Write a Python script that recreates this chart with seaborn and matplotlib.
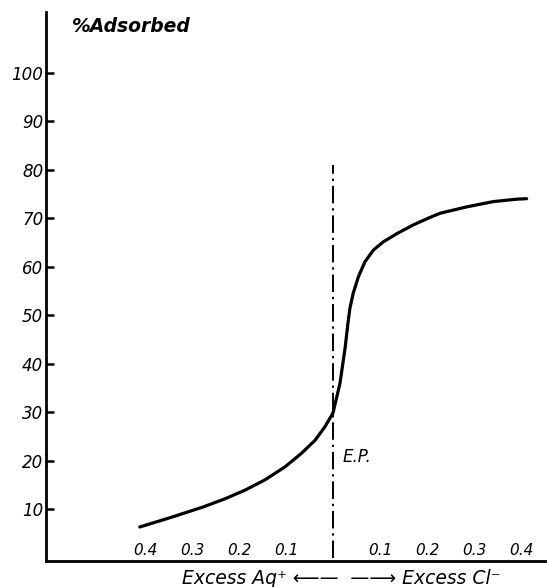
import matplotlib
matplotlib.use("Agg")
import matplotlib.pyplot as plt
import seaborn as sns
import pandas as pd

# ---- data ----
excess = [-0.411, -0.347, -0.277, -0.230, -0.187, -0.145, -0.102, -0.067,
          -0.038, -0.017, 0.0, 0.015, 0.026, 0.032, 0.036, 0.043, 0.054,
          0.068, 0.086, 0.107, 0.136, 0.171, 0.203, 0.228, 0.284, 0.341,
          0.391, 0.412]
adsorbed = [6.3, 8.2, 10.4, 12.1, 13.9, 16.0, 18.7, 21.5,
            24.2, 27.0, 29.8, 36.0, 43.4, 48.5, 51.4, 54.5, 57.9,
            61.0, 63.4, 65.1, 66.8, 68.6, 70.0, 71.0, 72.3, 73.4,
            73.9, 74.0]

ytick_values = [10, 20, 30, 40, 50, 60, 70, 80, 90, 100]
ytick_labels = ["10", "20", "30", "40", "50", "60", "70", "80", "90", "100"]
xtick_values = [-0.4, -0.3, -0.2, -0.1, 0.1, 0.2, 0.3, 0.4]
xtick_labels = ["0.4", "0.3", "0.2", "0.1", "0.1", "0.2", "0.3", "0.4"]

ep_x = 0.0
ep_top = 81.0

df = pd.DataFrame({"excess": excess, "adsorbed": adsorbed})

sns.set_theme(style="white")
plt.rcParams["font.family"] = ["DejaVu Sans"]

fig = plt.figure(figsize=(5.47, 5.87), dpi=100)
ax = fig.add_axes([46 / 547, 26 / 587, 501 / 547, 549 / 587])

sns.lineplot(data=df, x="excess", y="adsorbed", ax=ax, color="black",
             linewidth=2.3, sort=False, estimator=None,
             solid_joinstyle="round", solid_capstyle="round")

ax.vlines(ep_x, 0, ep_top, colors="black", linewidth=1.4,
          linestyles=(0, (9, 2.5, 1.2, 2.5)))

ax.set_xlim(-0.6106, 0.4553)
ax.set_ylim(-0.72, 112.5)

for s in ["top", "right"]:
    ax.spines[s].set_visible(False)
for s in ["left", "bottom"]:
    ax.spines[s].set_linewidth(2.0)
    ax.spines[s].set_color("black")

ax.set_yticks(ytick_values)
ax.set_yticklabels(ytick_labels, fontstyle="italic", fontsize=12)
ax.tick_params(axis="y", direction="in", length=6, width=1.8, pad=2,
               colors="black", left=True)

ax.set_xticks(xtick_values)
ax.set_xticklabels(xtick_labels, fontstyle="italic", fontsize=11)
ax.tick_params(axis="x", direction="in", length=0, pad=-13, colors="black")

ax.set_xlabel("Excess Aq\u207a \u27f5\u2014  \u2014\u27f6 Excess Cl\u207b",
              fontstyle="italic", fontsize=13.5, color="black", va="center")
ax.xaxis.set_label_coords(0.59, -0.031)

ax.set_ylabel("%Adsorbed", fontstyle="italic", fontweight="bold",
              fontsize=13.5, rotation=0, ha="left", va="center", color="black")
ax.yaxis.set_label_coords(0.052, 0.973)

ax.text(0.021, 20.7, "E.P.", fontstyle="italic", fontsize=12,
        ha="left", va="center", color="black")

ax.grid(False)
fig.savefig("out.png", dpi=100, facecolor="white")
